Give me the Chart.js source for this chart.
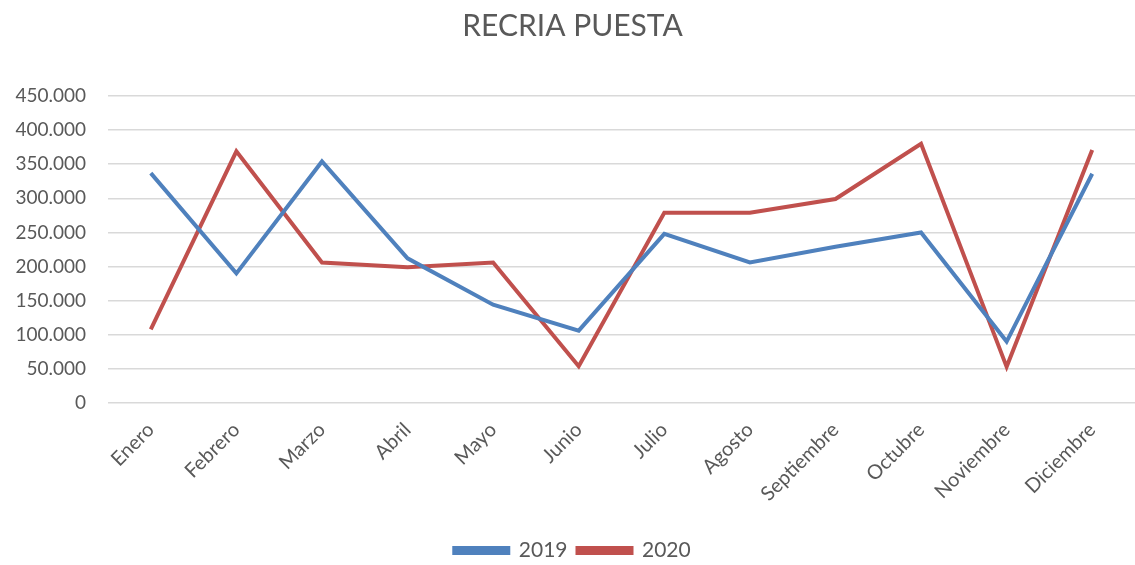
<!DOCTYPE html>
<html>
<head>
<meta charset="utf-8">
<script src="https://cdn.jsdelivr.net/npm/chart.js@4"></script>
<style>
  html, body { margin: 0; padding: 0; background: #ffffff; }
  #wrap { width: 1135px; height: 565px; }
</style>
</head>
<body>
<div id="wrap"><canvas id="chart"></canvas></div>
<script>
const months = ['Enero', 'Febrero', 'Marzo', 'Abril', 'Mayo', 'Junio', 'Julio', 'Agosto', 'Septiembre', 'Octubre', 'Noviembre', 'Diciembre'];
const values2019 = [337000, 190000, 354000, 212000, 144000, 106000, 248000, 206000, 229000, 250000, 90000, 336000];
const values2020 = [108000, 369000, 206000, 199000, 206000, 54000, 279000, 279000, 299000, 380000, 53000, 371000];

const textColor = '#595959';
const fontFamily = 'Lato, "Open Sans", sans-serif';

new Chart(document.getElementById('chart').getContext('2d'), {
    type: 'line',
    data: {
        labels: months,
        datasets: [
            {
                label: '2019',
                data: values2019,
                borderColor: '#4F81BD',
                backgroundColor: '#4F81BD',
                borderWidth: 4,
                pointRadius: 0,
                tension: 0,
                fill: false
            },
            {
                label: '2020',
                data: values2020,
                borderColor: '#C0504D',
                backgroundColor: '#C0504D',
                borderWidth: 4,
                pointRadius: 0,
                tension: 0,
                fill: false
            }
        ]
    },
    options: {
        responsive: true,
        maintainAspectRatio: false,
        animation: false,
        layout: {
            padding: { left: 10, right: 0, top: 0, bottom: -6 }
        },
        plugins: {
            title: {
                display: true,
                text: 'RECRIA PUESTA',
                color: textColor,
                font: { family: fontFamily, size: 30, weight: 'normal', lineHeight: 1.2 },
                padding: { top: 8, bottom: 52 }
            },
            legend: {
                position: 'bottom',
                labels: {
                    color: textColor,
                    font: { family: fontFamily, size: 21 },
                    boxWidth: 54,
                    boxHeight: 5,
                    padding: 10
                }
            },
            tooltip: { enabled: false }
        },
        scales: {
            x: {
                offset: true,
                grid: { display: false },
                border: { display: false },
                afterFit: function(scale) { scale.height = 127; },
                ticks: {
                    color: textColor,
                    font: { family: fontFamily, size: 20 },
                    maxRotation: 45,
                    minRotation: 45,
                    padding: 7
                }
            },
            y: {
                min: 0,
                max: 450000,
                grid: { color: '#d9d9d9', lineWidth: 1.5, drawTicks: false },
                border: { display: false },
                afterFit: function(scale) { scale.width = 98; },
                ticks: {
                    stepSize: 50000,
                    color: textColor,
                    font: { family: fontFamily, size: 19 },
                    padding: 22,
                    callback: function(value) {
                        return value.toLocaleString('de-DE');
                    }
                }
            }
        }
    }
});
</script>
</body>
</html>
